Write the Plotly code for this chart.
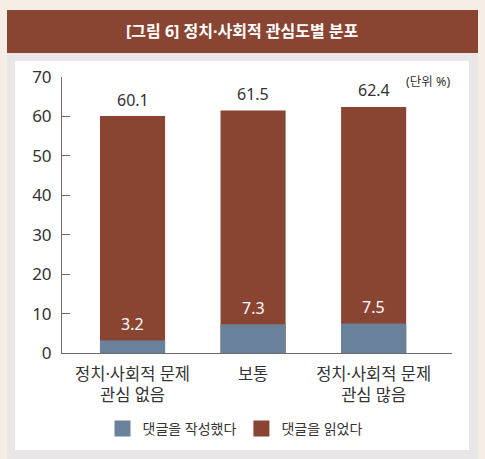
import plotly.graph_objects as go

categories = ["정치·사회적 문제<br>관심 없음", "보통", "정치·사회적 문제<br>관심 많음"]
read_vals = [60.1, 61.5, 62.4]
wrote_vals = [3.2, 7.3, 7.5]
y_ticks = [0, 10, 20, 30, 40, 50, 60, 70]
legend_names = ["댓글을 작성했다", "댓글을 읽었다"]

BROWN = "#8a4532"
BLUE = "#69819a"
TXT = "#333333"
FONT = "Noto Sans, Noto Sans CJK KR"

W, H = 485, 459
L, R, T, B = 62, 33, 77, 106
PW, PH = W - L - R, H - T - B

def px(x):
    return (x - L) / PW

def py(y):
    return (H - B - y) / PH

fig = go.Figure()
fig.add_trace(go.Bar(x=categories, y=read_vals, name=legend_names[1], showlegend=False,
                     marker=dict(color=BROWN, line=dict(width=0))))
fig.add_trace(go.Bar(x=categories, y=wrote_vals, name=legend_names[0], showlegend=False,
                     marker=dict(color=BLUE, line=dict(width=0))))
# legend entries with larger square swatches
for nm, col in zip(legend_names, [BLUE, BROWN]):
    fig.add_trace(go.Scatter(x=[None], y=[None], mode="markers", name=nm,
                             marker=dict(symbol="square", size=16, color=col)))

ann = []
for c, v in zip(categories, read_vals):
    ann.append(dict(x=c, y=v, text=f"{v}", showarrow=False, yanchor="middle",
                    yshift=16.5, font=dict(size=16, color=TXT, family=FONT)))
for c, v in zip(categories, wrote_vals):
    ann.append(dict(x=c, y=v, text=f"{v}", showarrow=False, yanchor="middle",
                    yshift=16.5, font=dict(size=16, color="white", family=FONT)))
ann.append(dict(x=1, y=py(82), xref="paper", yref="paper", xanchor="right",
                yanchor="middle", text="(단위 %)", showarrow=False,
                font=dict(size=12.5, color=TXT, family=FONT)))
ann.append(dict(x=px(242), y=py(31), xref="paper", yref="paper", xanchor="center",
                yanchor="middle", text="<b>[그림 6] 정치·사회적 관심도별 분포</b>",
                showarrow=False, font=dict(size=16, color="white", family=FONT)))

shapes = [
    dict(type="rect", xref="paper", yref="paper", x0=px(7), x1=px(478), y0=py(52), y1=py(470),
         fillcolor="#e8e6e6", line=dict(width=0), layer="below"),
    dict(type="rect", xref="paper", yref="paper", x0=px(7), x1=px(478), y0=py(10), y1=py(53),
         fillcolor=BROWN, line=dict(width=0), layer="below"),
    dict(type="rect", xref="paper", yref="paper", x0=px(15), x1=px(469), y0=py(61), y1=py(450),
         fillcolor="white", line=dict(width=0), layer="below"),
]

fig.update_layout(
    width=W, height=H,
    margin=dict(l=L, r=R, t=T, b=B),
    paper_bgcolor="#f6ede7", plot_bgcolor="rgba(0,0,0,0)",
    barmode="overlay", bargap=0.46,
    font=dict(family=FONT, color=TXT),
    showlegend=True,
    legend=dict(orientation="h", x=px(235), xanchor="center", y=py(429), yanchor="middle",
                font=dict(size=14, color=TXT, family=FONT), itemsizing="trace",
                bgcolor="rgba(0,0,0,0)"),
    annotations=ann, shapes=shapes,
)
fig.update_xaxes(range=[-0.585, 2.65], showline=True, linecolor="#6b6b6b", linewidth=1,
                 ticks="", showgrid=False, tickfont=dict(size=16.5, color=TXT, family=FONT),
                 ticklabelstandoff=6, fixedrange=True)
fig.update_yaxes(range=[0, 70], tickvals=y_ticks, showline=True, linecolor="#6b6b6b",
                 linewidth=1, ticks="inside", ticklen=8, tickcolor="#6b6b6b",
                 showgrid=False, zeroline=False, tickfont=dict(size=17, color=TXT, family=FONT),
                 ticklabelstandoff=6, fixedrange=True)

fig.write_html("out.html", config={"displayModeBar": False},
               post_script="document.body.style.margin='0';document.body.style.overflow='hidden';")
